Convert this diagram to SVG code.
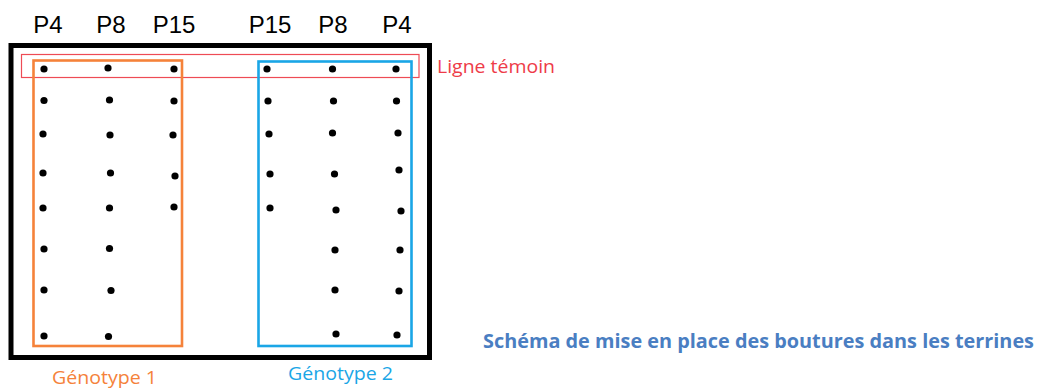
<svg xmlns="http://www.w3.org/2000/svg" width="1038" height="389" viewBox="0 0 1038 389">
<style>
.hdr{font-family:"Liberation Sans",Arial,sans-serif;font-size:24px;fill:#000;text-anchor:middle}
.d{fill:#000}
.lbl{font-family:"Open Sans","Liberation Sans",sans-serif;font-size:18px}
</style>
<rect width="1038" height="389" fill="#fff"/>
<g id="headers">
<text class="hdr" x="48" y="33">P4</text>
<text class="hdr" x="111" y="33">P8</text>
<text class="hdr" x="174" y="33">P15</text>
<text class="hdr" x="270" y="33">P15</text>
<text class="hdr" x="333" y="33">P8</text>
<text class="hdr" x="397" y="33">P4</text>
</g>
<g id="terrine">
<rect x="11" y="45.5" width="418.5" height="312" fill="none" stroke="#000" stroke-width="5"/>
</g>
<g id="ligne-temoin">
<rect x="21.5" y="54.5" width="397.5" height="23" fill="none" stroke="#EE4B55" stroke-width="1.2"/>
<text class="lbl" x="437" y="73" fill="#EE3B48" textLength="118" lengthAdjust="spacingAndGlyphs">Ligne témoin</text>
</g>
<g id="genotype1">
<rect x="33.5" y="60.5" width="148.5" height="285.5" fill="none" stroke="#F5823A" stroke-width="2.6"/>
<text class="lbl" x="52" y="384" fill="#F5823A" textLength="105" lengthAdjust="spacingAndGlyphs">Génotype 1</text>
</g>
<g id="genotype2">
<rect x="258.5" y="61.5" width="153" height="284.5" fill="none" stroke="#1AA6E6" stroke-width="2.6"/>
<text class="lbl" x="288" y="380" fill="#1AA6E6" textLength="105" lengthAdjust="spacingAndGlyphs">Génotype 2</text>
</g>
<g id="plants">
<circle class="d" cx="44" cy="69" r="3.6"/><circle class="d" cx="44" cy="100.5" r="3.6"/><circle class="d" cx="43" cy="134" r="3.6"/><circle class="d" cx="43" cy="173" r="3.6"/><circle class="d" cx="43" cy="208" r="3.6"/><circle class="d" cx="44" cy="249" r="3.6"/><circle class="d" cx="44" cy="290" r="3.6"/><circle class="d" cx="44" cy="336" r="3.6"/>
<circle class="d" cx="108" cy="68" r="3.6"/><circle class="d" cx="109.5" cy="100" r="3.6"/><circle class="d" cx="110" cy="135" r="3.6"/><circle class="d" cx="110.5" cy="173" r="3.6"/><circle class="d" cx="109.5" cy="208" r="3.6"/><circle class="d" cx="109.5" cy="248.5" r="3.6"/><circle class="d" cx="111" cy="290.5" r="3.6"/><circle class="d" cx="108.5" cy="336.5" r="3.6"/>
<circle class="d" cx="174" cy="69" r="3.6"/><circle class="d" cx="174" cy="101" r="3.6"/><circle class="d" cx="173" cy="135" r="3.6"/><circle class="d" cx="175" cy="176" r="3.6"/><circle class="d" cx="174" cy="207" r="3.6"/>
<circle class="d" cx="267" cy="69" r="3.6"/><circle class="d" cx="268" cy="101" r="3.6"/><circle class="d" cx="269" cy="134" r="3.6"/><circle class="d" cx="270" cy="174" r="3.6"/><circle class="d" cx="270" cy="208" r="3.6"/>
<circle class="d" cx="332.5" cy="69" r="3.6"/><circle class="d" cx="333.5" cy="101" r="3.6"/><circle class="d" cx="332.5" cy="133" r="3.6"/><circle class="d" cx="334.5" cy="174" r="3.6"/><circle class="d" cx="336" cy="210" r="3.6"/><circle class="d" cx="335" cy="250" r="3.6"/><circle class="d" cx="335" cy="290" r="3.6"/><circle class="d" cx="336" cy="334" r="3.6"/>
<circle class="d" cx="396" cy="69" r="3.6"/><circle class="d" cx="396.5" cy="101" r="3.6"/><circle class="d" cx="398" cy="133" r="3.6"/><circle class="d" cx="399" cy="170" r="3.6"/><circle class="d" cx="401" cy="211" r="3.6"/><circle class="d" cx="400" cy="250" r="3.6"/><circle class="d" cx="399" cy="291" r="3.6"/><circle class="d" cx="397" cy="335" r="3.6"/>
</g>
<g id="title">
<text x="483" y="348" font-family="'Open Sans','Liberation Sans',sans-serif" font-weight="bold" font-size="20" fill="#4A7EC2" textLength="551" lengthAdjust="spacingAndGlyphs">Schéma de mise en place des boutures dans les terrines</text>
</g>
</svg>
